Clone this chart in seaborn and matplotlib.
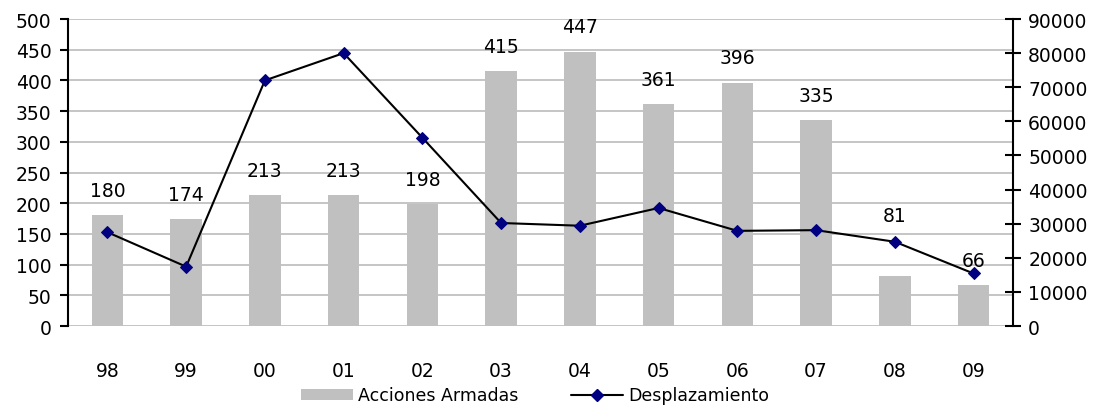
import matplotlib
matplotlib.use("Agg")
import matplotlib.pyplot as plt
import seaborn as sns
import pandas as pd
from matplotlib.lines import Line2D
from matplotlib.patches import Patch

years = ["98", "99", "00", "01", "02", "03", "04", "05", "06", "07", "08", "09"]
acciones = [180, 174, 213, 213, 198, 415, 447, 361, 396, 335, 81, 66]
desplazamiento = [27500, 17400, 72000, 80000, 55200, 30200, 29400, 34600, 27900, 28100, 24700, 15400]

sns.set_style("white")
plt.rcParams['font.family'] = ['DejaVu Sans']
plt.rcParams['text.color'] = 'black'
plt.rcParams['xtick.color'] = 'black'
plt.rcParams['ytick.color'] = 'black'

df = pd.DataFrame({"year": years, "acciones": acciones, "desplazamiento": desplazamiento})
df["pos"] = range(len(df))

FS = 13.5

fig = plt.figure(figsize=(11.01, 4.10), dpi=100)
ax = fig.add_axes([0.0618, 0.2024, 0.8582, 0.7488])
ax2 = ax.twinx()

sns.barplot(data=df, x="year", y="acciones", color="#C0C0C0", width=0.4,
            saturation=1, ax=ax, zorder=2, linewidth=0)
ax.set_ylim(0, 500)
ax.set_xlim(-0.5, len(years) - 0.5)
ax.set_yticks(range(0, 501, 50))
ax.yaxis.grid(True, color="#C0C0C0", linewidth=1.3, zorder=0)
ax.set_axisbelow(True)
ax.set_xlabel("")
ax.set_ylabel("")

sns.lineplot(data=df, x="pos", y="desplazamiento", ax=ax2, color="black",
             linewidth=1.5, marker="D", markersize=6, markerfacecolor="#000080",
             markeredgecolor="#000080", zorder=3)
ax2.set_ylim(0, 90000)
ax2.set_yticks(range(0, 90001, 10000))
ax2.set_xlabel("")
ax2.set_ylabel("")

# label for 08 was moved up above the line in the original
for i, v in enumerate(acciones):
    off = 44 if years[i] == "08" else 18
    ax2.annotate(str(v), (i, v * 90000 / 500), xytext=(0, off), textcoords="offset points",
                 ha="center", va="center", fontsize=FS, zorder=4)

for a in (ax, ax2):
    a.spines["top"].set_visible(False)
    a.spines["bottom"].set_visible(False)
ax.spines["right"].set_visible(False)
ax.spines["left"].set_color("black")
ax.spines["left"].set_linewidth(1.5)
ax2.spines["left"].set_visible(False)
ax2.spines["right"].set_color("black")
ax2.spines["right"].set_linewidth(1.5)

ax.tick_params(axis="y", left=True, length=6, width=1.5, labelsize=FS, pad=6)
ax.tick_params(axis="x", bottom=False, labelsize=FS, pad=22)
ax2.tick_params(axis="y", right=True, direction="inout", length=12, width=1.5,
                labelsize=FS, pad=5)

handles = [Patch(facecolor="#C0C0C0", edgecolor="none"),
           Line2D([0], [0], color="black", linewidth=1.5, marker="D", markersize=6,
                  markerfacecolor="#000080", markeredgecolor="#000080")]
fig.legend(handles, ["Acciones Armadas", "Desplazamiento"], loc="lower center",
           bbox_to_anchor=(0.486, -0.027), ncol=2, frameon=False, fontsize=12.5,
           handlelength=3.0, handleheight=0.6, columnspacing=3.0, handletextpad=0.3)

fig.savefig("out.png", dpi=100)
